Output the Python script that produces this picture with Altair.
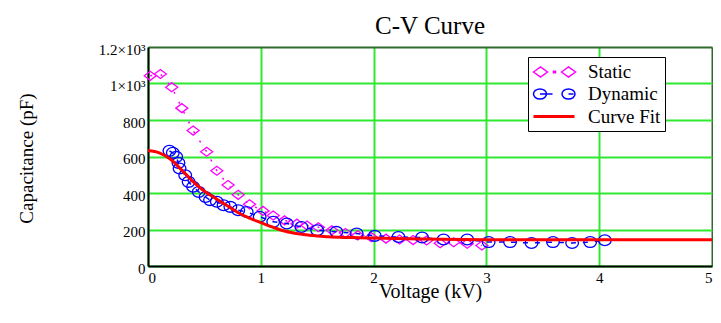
import altair as alt
import pandas as pd

series_names = ["Static", "Dynamic", "Curve Fit"]
series_colors = ["#ff00ff", "#0000ff", "#ff0000"]

static_v = [0.02, 0.11, 0.21, 0.30, 0.40, 0.52, 0.61, 0.71, 0.80, 0.90, 1.02, 1.11, 1.21, 1.32,
            1.41, 1.51, 1.63, 1.75, 1.86, 1.98, 2.11, 2.23, 2.35, 2.47, 2.59, 2.71, 2.83, 2.96]
static_c = [1042, 1052, 980, 865, 742, 626, 522, 444, 390, 338, 302, 277, 250, 232,
            222, 212, 196, 181, 168, 158, 150, 145, 142, 140, 125, 130, 122, 112]

dynamic_v = [0.19, 0.22, 0.25, 0.27, 0.28, 0.33, 0.36, 0.40, 0.45, 0.51, 0.55, 0.61, 0.67, 0.73,
             0.80, 0.875, 0.99, 1.11, 1.23, 1.36, 1.50, 1.67, 1.85, 2.01, 2.22, 2.43, 2.62, 2.83,
             3.02, 3.21, 3.40, 3.59, 3.76, 3.92, 4.05]
dynamic_c = [631, 620, 598, 565, 534, 497, 461, 434, 406, 378, 361, 352, 333, 324,
             306, 296, 270, 242, 233, 214, 196, 187, 178, 165, 159, 156, 145, 145,
             131, 131, 126, 131, 126, 131, 141]

fit_v = [0.0, 0.1, 0.2, 0.3, 0.4, 0.5, 0.6, 0.7, 0.8, 0.9, 1.0, 1.1, 1.2, 1.3, 1.4, 1.5,
         1.6, 1.8, 2.0, 2.3, 2.6, 3.0, 4.0, 5.0]
fit_c = [633, 620, 585, 525, 462, 410, 370, 331, 292, 262, 238, 214, 193, 180, 171, 165,
         160, 156, 153, 149, 146, 144, 144, 144]

x_ticks = [0, 1, 2, 3, 4, 5]
y_ticks = [0, 200, 400, 600, 800, 1000, 1200]

static_df = pd.DataFrame({"v": static_v, "c": static_c})
dynamic_df = pd.DataFrame({"v": dynamic_v, "c": dynamic_c})
fit_df = pd.DataFrame({"v": fit_v, "c": fit_c})
legend_df = pd.DataFrame({"series": series_names})

serif = "Liberation Serif"
grid_green = "#30e830"
border_green = "#2f6b2f"

diamond_path = "M-1,0L0,-0.75L1,0L0,0.75Z"
ellipse_path = "M-1,0A1,0.85 0 1,0 1,0A1,0.85 0 1,0 -1,0Z"

legend_paths = [
    "M-1,0L-0.3,-0.5L0.4,0L-0.3,0.5Z M1.0,-0.08L1.2,-0.08L1.2,0.08L1.0,0.08Z M1.8,0L2.5,-0.5L3.2,0L2.5,0.5Z",
    "M-1,0A0.65,0.5 0 1,0 0.3,0A0.65,0.5 0 1,0 -1,0Z M-0.35,0L0.9,0 M1.85,0A0.65,0.5 0 1,0 3.15,0A0.65,0.5 0 1,0 1.85,0Z M2.5,0L3.0,0",
    "M-1,0L3.1,0",
]

x_enc = alt.X(
    "v:Q",
    scale=alt.Scale(domain=[0, 5], nice=False, zero=False),
    axis=alt.Axis(
        values=x_ticks, title="Voltage (kV)", grid=True,
        gridColor=alt.condition("datum.value === 5", alt.value(border_green), alt.value(grid_green)),
        gridWidth=2, ticks=False, domainColor="black", domainWidth=2,
        labelFont=serif, labelFontSize=15, labelColor="black", labelPadding=4,
        titleFont=serif, titleFontSize=20, titleFontWeight="normal", titleColor="black",
        titleY=15, titleBaseline="top",
    ),
)
y_enc = alt.Y(
    "c:Q",
    scale=alt.Scale(domain=[0, 1200], nice=False),
    axis=alt.Axis(
        values=y_ticks, title="Capacitance (pF)", grid=True,
        gridColor=alt.condition("datum.value === 1200", alt.value(border_green), alt.value(grid_green)),
        gridWidth=2, ticks=False, domainColor="black", domainWidth=2,
        labelFont=serif, labelFontSize=15, labelColor="black", labelPadding=3, labelOffset=2,
        labelExpr="datum.value == 1200 ? '1.2×10³' : (datum.value == 1000 ? '1×10³' : datum.label)",
        titleFont=serif, titleFontSize=19, titleFontWeight="normal", titleColor="black",
        titleX=-122, titleY=111, titleBaseline="middle",
    ),
)

static_line = alt.Chart(static_df).mark_line(
    color=series_colors[0], strokeDash=[2, 9], strokeWidth=1.5
).encode(x=x_enc, y=y_enc)
static_pts = alt.Chart(static_df).mark_point(
    shape=diamond_path, size=144, filled=False, color=series_colors[0], strokeWidth=1.3, opacity=1
).encode(x=x_enc, y=y_enc)

dynamic_line = alt.Chart(dynamic_df).mark_line(
    color=series_colors[1], strokeDash=[5, 7], strokeWidth=1.5
).encode(x=x_enc, y=y_enc)
dynamic_pts = alt.Chart(dynamic_df).mark_point(
    shape=ellipse_path, size=160, filled=False, color=series_colors[1], strokeWidth=1.3, opacity=1
).encode(x=x_enc, y=y_enc)

fit_line = alt.Chart(fit_df).mark_line(
    color=series_colors[2], strokeWidth=3, interpolate="monotone"
).encode(x=x_enc, y=y_enc)

leg = alt.Legend(
    title=None, orient="none", legendX=380, legendY=10, padding=4,
    strokeColor="black", fillColor="white", cornerRadius=0,
    labelFont=serif, labelFontSize=19, labelColor="black", labelOffset=33,
    symbolSize=400, rowPadding=1,
    labelExpr="datum.label + '\u00a0\u00a0\u00a0\u00a0\u00a0\u00a0\u00a0'",
)

legend_layer = alt.Chart(legend_df).transform_filter("false").mark_point(filled=False, opacity=1).encode(
    color=alt.Color("series:N", scale=alt.Scale(domain=series_names, range=series_colors), legend=leg),
    shape=alt.Shape("series:N", scale=alt.Scale(domain=series_names, range=legend_paths), legend=leg),
    strokeWidth=alt.StrokeWidth("series:O", scale=alt.Scale(type="ordinal", domain=series_names, range=[1.5, 1.5, 3]), legend=leg),
)

chart = alt.layer(
    static_line, static_pts, dynamic_line, dynamic_pts, fit_line, legend_layer
).properties(
    width=564, height=219,
    title=alt.TitleParams("C-V Curve", font=serif, fontSize=25, fontWeight="normal",
                          color="black", anchor="middle", offset=3),
    autosize=alt.AutoSizeParams(type="none"),
    padding={"left": 140, "top": 39, "right": 1, "bottom": 49},
    background="white",
).configure_view(stroke=None)

chart.save("out.html", embed_options={"renderer": "svg", "actions": False})
